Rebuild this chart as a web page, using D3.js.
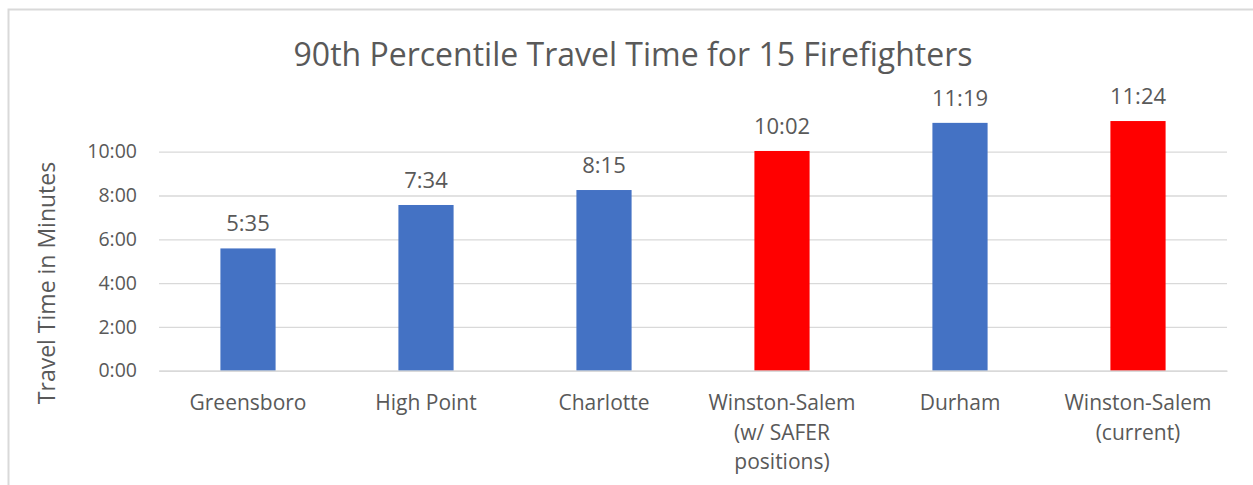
<!DOCTYPE html>
<html>
<head>
<meta charset="utf-8">
<script src="https://cdn.jsdelivr.net/npm/d3@7"></script>
<style>
  html, body { margin: 0; padding: 0; background: #ffffff; }
  svg { display: block; font-family: "Open Sans", "Noto Sans", sans-serif; }
</style>
</head>
<body>
<svg id="chart" width="1253" height="485"></svg>
<script>
// Departments compared
const categories = [
  ["Greensboro"],
  ["High Point"],
  ["Charlotte"],
  ["Winston-Salem", "(w/ SAFER", "positions)"],
  ["Durham"],
  ["Winston-Salem", "(current)"]
];
// 90th percentile travel time, in seconds (5:35, 7:34, 8:15, 10:02, 11:19, 11:24)
const travelSeconds = [335, 454, 495, 602, 679, 684];
// Which bars are Winston-Salem scenarios
const highlighted = [false, false, false, true, false, true];
// Y axis ticks, in seconds
const yTicks = [0, 120, 240, 360, 480, 600];

const fmt = s => Math.floor(s / 60) + ":" + String(Math.round(s % 60)).padStart(2, "0");

const svg = d3.select("#chart");
const textColor = "#595959";
const gridColor = "#d9d9d9";

// chart frame
svg.append("rect")
  .attr("x", 8.5).attr("y", 9.5)
  .attr("width", 1400).attr("height", 700)
  .attr("fill", "none")
  .attr("stroke", gridColor)
  .attr("stroke-width", 2);

const x = d3.scaleBand()
  .domain(d3.range(categories.length))
  .range([159, 1227])
  .paddingInner(0.69)
  .paddingOuter(0.345);

const y = d3.scaleLinear()
  .domain([0, 720])
  .range([370.7, 107.9]);

// title
svg.append("text")
  .attr("x", 633).attr("y", 66)
  .attr("text-anchor", "middle")
  .attr("font-size", 32)
  .attr("fill", textColor)
  .text("90th Percentile Travel Time for 15 Firefighters");

// gridlines + y tick labels
const yAxis = d3.axisLeft(y)
  .tickValues(yTicks)
  .tickFormat(fmt)
  .tickSize(-(1227 - 159))
  .tickPadding(22);

const gy = svg.append("g")
  .attr("transform", "translate(159,0)")
  .call(yAxis);
gy.select(".domain").remove();
gy.selectAll(".tick line")
  .attr("stroke", gridColor)
  .attr("stroke-width", 1.3);
gy.selectAll(".tick text")
  .attr("fill", textColor)
  .attr("font-size", 19.5)
  .attr("font-family", "Open Sans, sans-serif");

// bars
svg.append("g")
  .selectAll("rect")
  .data(travelSeconds)
  .join("rect")
  .attr("x", (d, i) => x(i))
  .attr("width", x.bandwidth())
  .attr("y", d => y(d))
  .attr("height", d => y(0) - y(d))
  .attr("fill", (d, i) => highlighted[i] ? "#ff0000" : "#4472c4");

// category axis line
const gx = svg.append("g")
  .attr("transform", `translate(0,${y(0)})`)
  .call(d3.axisBottom(x).tickSize(0).tickFormat(""));
gx.select(".domain")
  .attr("stroke", gridColor)
  .attr("stroke-width", 1.6);

// category labels (multi-line)
const labels = svg.append("g")
  .selectAll("text")
  .data(categories)
  .join("text")
  .attr("text-anchor", "middle")
  .attr("font-size", 21)
  .attr("fill", textColor);
labels.each(function (lines, i) {
  const t = d3.select(this);
  lines.forEach((line, k) => {
    t.append("tspan")
      .attr("x", x(i) + x.bandwidth() / 2)
      .attr("y", 410 + k * 29.5)
      .text(line);
  });
});

// value labels
svg.append("g")
  .selectAll("text")
  .data(travelSeconds)
  .join("text")
  .attr("x", (d, i) => x(i) + x.bandwidth() / 2)
  .attr("y", d => y(d) - 17)
  .attr("text-anchor", "middle")
  .attr("font-size", 22)
  .attr("fill", textColor)
  .text(fmt);

// y axis title
svg.append("text")
  .attr("transform", "translate(55,283) rotate(-90)")
  .attr("text-anchor", "middle")
  .attr("font-size", 23)
  .attr("fill", textColor)
  .text("Travel Time in Minutes");
</script>
</body>
</html>
